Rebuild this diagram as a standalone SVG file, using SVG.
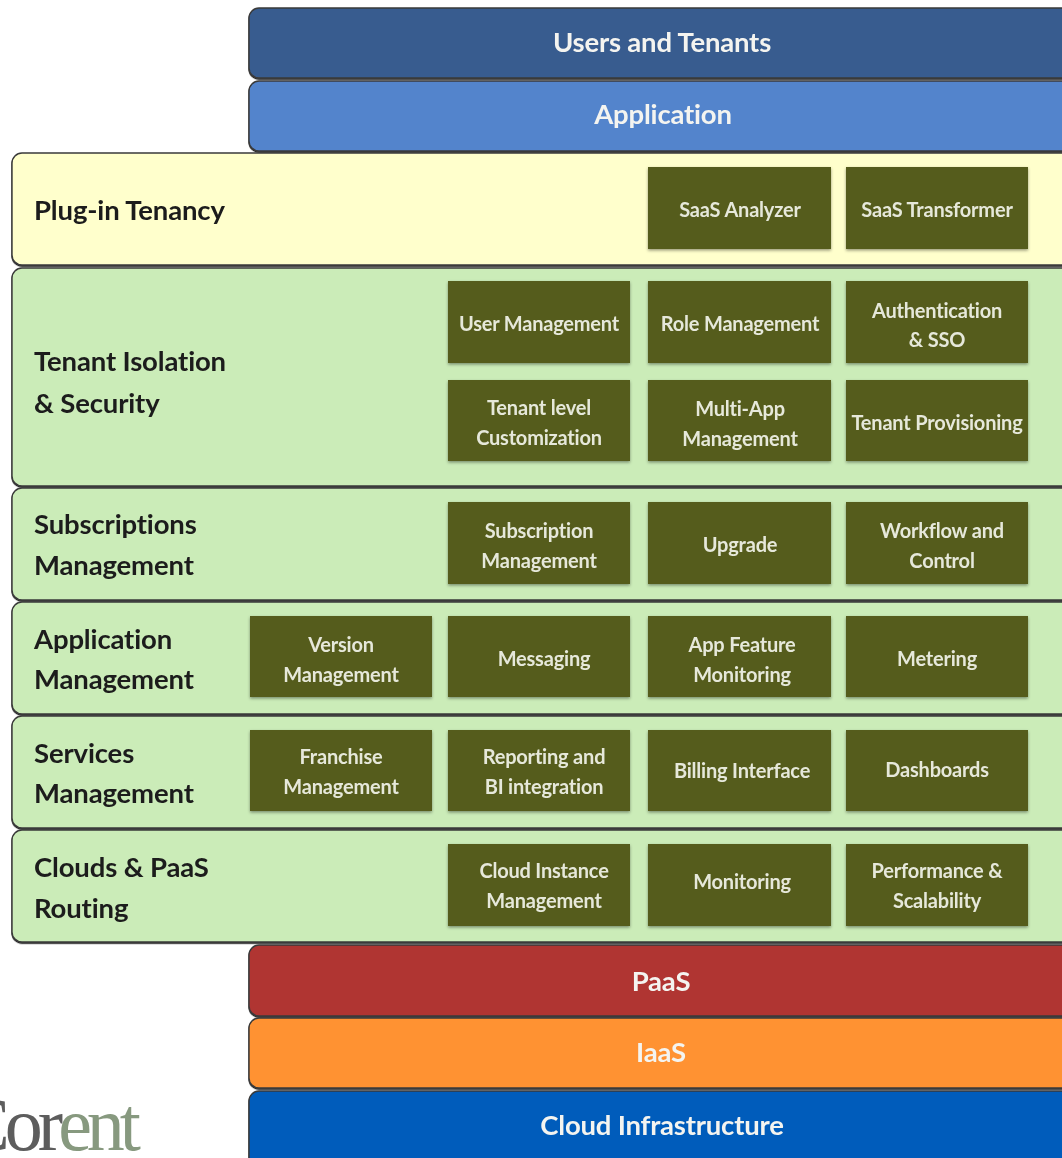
<svg xmlns="http://www.w3.org/2000/svg" width="1062" height="1158" viewBox="0 0 1062 1158">
<style>
.b{stroke:#3a3a3a;stroke-width:1.4;filter:url(#e)}
.l{font:700 27.5px Lato,"Liberation Sans",sans-serif;letter-spacing:-.15px;fill:#1c1c1c;transform:translateY(-1px)}
.h{font:700 27.5px Lato,"Liberation Sans",sans-serif;letter-spacing:-.2px;fill:#f4f4f0;text-anchor:middle;transform:translateY(-1px)}
.c{fill:#545c1c;filter:url(#s)}
.t{font:700 20px Lato,"Liberation Sans",sans-serif;letter-spacing:-.2px;fill:#e6e8da;text-anchor:middle}
</style>
<defs>
<filter id="s" x="-5%" y="-5%" width="110%" height="112%"><feDropShadow dx="0" dy="1.5" stdDeviation="1.5" flood-color="#000" flood-opacity=".4"/></filter>
<filter id="e" x="-2%" y="-2%" width="104%" height="106%"><feDropShadow dx="0" dy="1.2" stdDeviation=".4" flood-color="#000" flood-opacity=".85"/></filter>
<filter id="soft" x="0" y="0" width="1062" height="1158" filterUnits="userSpaceOnUse"><feGaussianBlur stdDeviation="0.65"/></filter>
</defs>
<rect width="1062" height="1158" fill="#fff"/>
<g filter="url(#soft)">
<g id="users"><rect class="b" x="249" y="8" width="830" height="70" rx="10" fill="#375c8f"/><text class="h" x="662" y="53">Users and Tenants</text></g>
<g id="application"><rect class="b" x="249" y="81" width="830" height="70" rx="10" fill="#5384cc"/><text class="h" x="663" y="125">Application</text></g>
<g id="plugin"><rect class="b" x="12" y="153" width="1070" height="112" rx="10" fill="#ffffcc"/><text class="l" x="34" y="221">Plug-in Tenancy</text></g>
<g id="isolation"><rect class="b" x="12" y="268" width="1070" height="218" rx="10" fill="#cbecb8"/><text class="l" x="34" y="372">Tenant Isolation</text><text class="l" x="34" y="414">&amp; Security</text></g>
<g id="subscriptions"><rect class="b" x="12" y="488" width="1070" height="112" rx="10" fill="#cbecb8"/><text class="l" x="34" y="535">Subscriptions</text><text class="l" x="34" y="576">Management</text></g>
<g id="appmgmt"><rect class="b" x="12" y="602" width="1070" height="112" rx="10" fill="#cbecb8"/><text class="l" x="34" y="650">Application</text><text class="l" x="34" y="690">Management</text></g>
<g id="services"><rect class="b" x="12" y="716" width="1070" height="112" rx="10" fill="#cbecb8"/><text class="l" x="34" y="764">Services</text><text class="l" x="34" y="804">Management</text></g>
<g id="clouds"><rect class="b" x="12" y="830" width="1070" height="112" rx="10" fill="#cbecb8"/><text class="l" x="34" y="878">Clouds &amp; PaaS</text><text class="l" x="34" y="919">Routing</text></g>
<g id="paas"><rect class="b" x="249" y="945" width="830" height="71" rx="10" fill="#b03433"/><text class="h" x="661" y="992">PaaS</text></g>
<g id="iaas"><rect class="b" x="249" y="1018" width="830" height="70" rx="10" fill="#ff9230"/><text class="h" x="661" y="1063">IaaS</text></g>
<g id="infra"><rect class="b" x="249" y="1091" width="830" height="90" rx="10" fill="#015bbb"/><text class="h" x="662" y="1136">Cloud Infrastructure</text></g>

<g id="saas-analyzer"><rect class="c" x="648" y="167" width="183" height="82"/><text class="t" x="740" y="217">SaaS Analyzer</text></g>
<g id="saas-transformer"><rect class="c" x="846" y="167" width="182" height="82"/><text class="t" x="937" y="217">SaaS Transformer</text></g>
<g id="user-mgmt"><rect class="c" x="448" y="281" width="182" height="82"/><text class="t" x="539" y="331">User Management</text></g>
<g id="role-mgmt"><rect class="c" x="648" y="281" width="183" height="82"/><text class="t" x="740" y="331">Role Management</text></g>
<g id="auth"><rect class="c" x="846" y="281" width="182" height="82"/><text class="t" x="937" y="318">Authentication</text><text class="t" x="937" y="347">&amp; SSO</text></g>
<g id="customization"><rect class="c" x="448" y="380" width="182" height="81"/><text class="t" x="539" y="415">Tenant level</text><text class="t" x="539" y="445">Customization</text></g>
<g id="multi-app"><rect class="c" x="648" y="380" width="183" height="81"/><text class="t" x="740" y="416">Multi-App</text><text class="t" x="740" y="446">Management</text></g>
<g id="provisioning"><rect class="c" x="846" y="380" width="182" height="81"/><text class="t" x="937" y="430">Tenant Provisioning</text></g>
<g id="sub-mgmt"><rect class="c" x="448" y="502" width="182" height="82"/><text class="t" x="539" y="538">Subscription</text><text class="t" x="539" y="568">Management</text></g>
<g id="upgrade"><rect class="c" x="648" y="502" width="183" height="82"/><text class="t" x="740" y="552">Upgrade</text></g>
<g id="workflow"><rect class="c" x="846" y="502" width="182" height="82"/><text class="t" x="942" y="538">Workflow and</text><text class="t" x="942" y="568">Control</text></g>
<g id="version"><rect class="c" x="250" y="616" width="182" height="81"/><text class="t" x="341" y="652">Version</text><text class="t" x="341" y="682">Management</text></g>
<g id="messaging"><rect class="c" x="448" y="616" width="182" height="81"/><text class="t" x="544" y="666">Messaging</text></g>
<g id="feature"><rect class="c" x="648" y="616" width="183" height="81"/><text class="t" x="742" y="652">App Feature</text><text class="t" x="742" y="682">Monitoring</text></g>
<g id="metering"><rect class="c" x="846" y="616" width="182" height="81"/><text class="t" x="937" y="666">Metering</text></g>
<g id="franchise"><rect class="c" x="250" y="730" width="182" height="81"/><text class="t" x="341" y="764">Franchise</text><text class="t" x="341" y="794">Management</text></g>
<g id="reporting"><rect class="c" x="448" y="730" width="182" height="81"/><text class="t" x="544" y="764">Reporting and</text><text class="t" x="544" y="794">BI integration</text></g>
<g id="billing"><rect class="c" x="648" y="730" width="183" height="81"/><text class="t" x="742" y="778">Billing Interface</text></g>
<g id="dashboards"><rect class="c" x="846" y="730" width="182" height="81"/><text class="t" x="937" y="777">Dashboards</text></g>
<g id="instance"><rect class="c" x="448" y="844" width="182" height="82"/><text class="t" x="544" y="878">Cloud Instance</text><text class="t" x="544" y="908">Management</text></g>
<g id="monitoring"><rect class="c" x="648" y="844" width="183" height="82"/><text class="t" x="742" y="889">Monitoring</text></g>
<g id="performance"><rect class="c" x="846" y="844" width="182" height="82"/><text class="t" x="937" y="878">Performance &amp;</text><text class="t" x="937" y="908">Scalability</text></g>
<g id="logo"><text x="136" y="1150" text-anchor="end" font-family="'Liberation Serif',serif" font-size="76" letter-spacing="-5" fill="#5d5d5d">Cor<tspan fill="#87997f">ent</tspan></text></g>
</g>
<g id="connectors"/>
</svg>
